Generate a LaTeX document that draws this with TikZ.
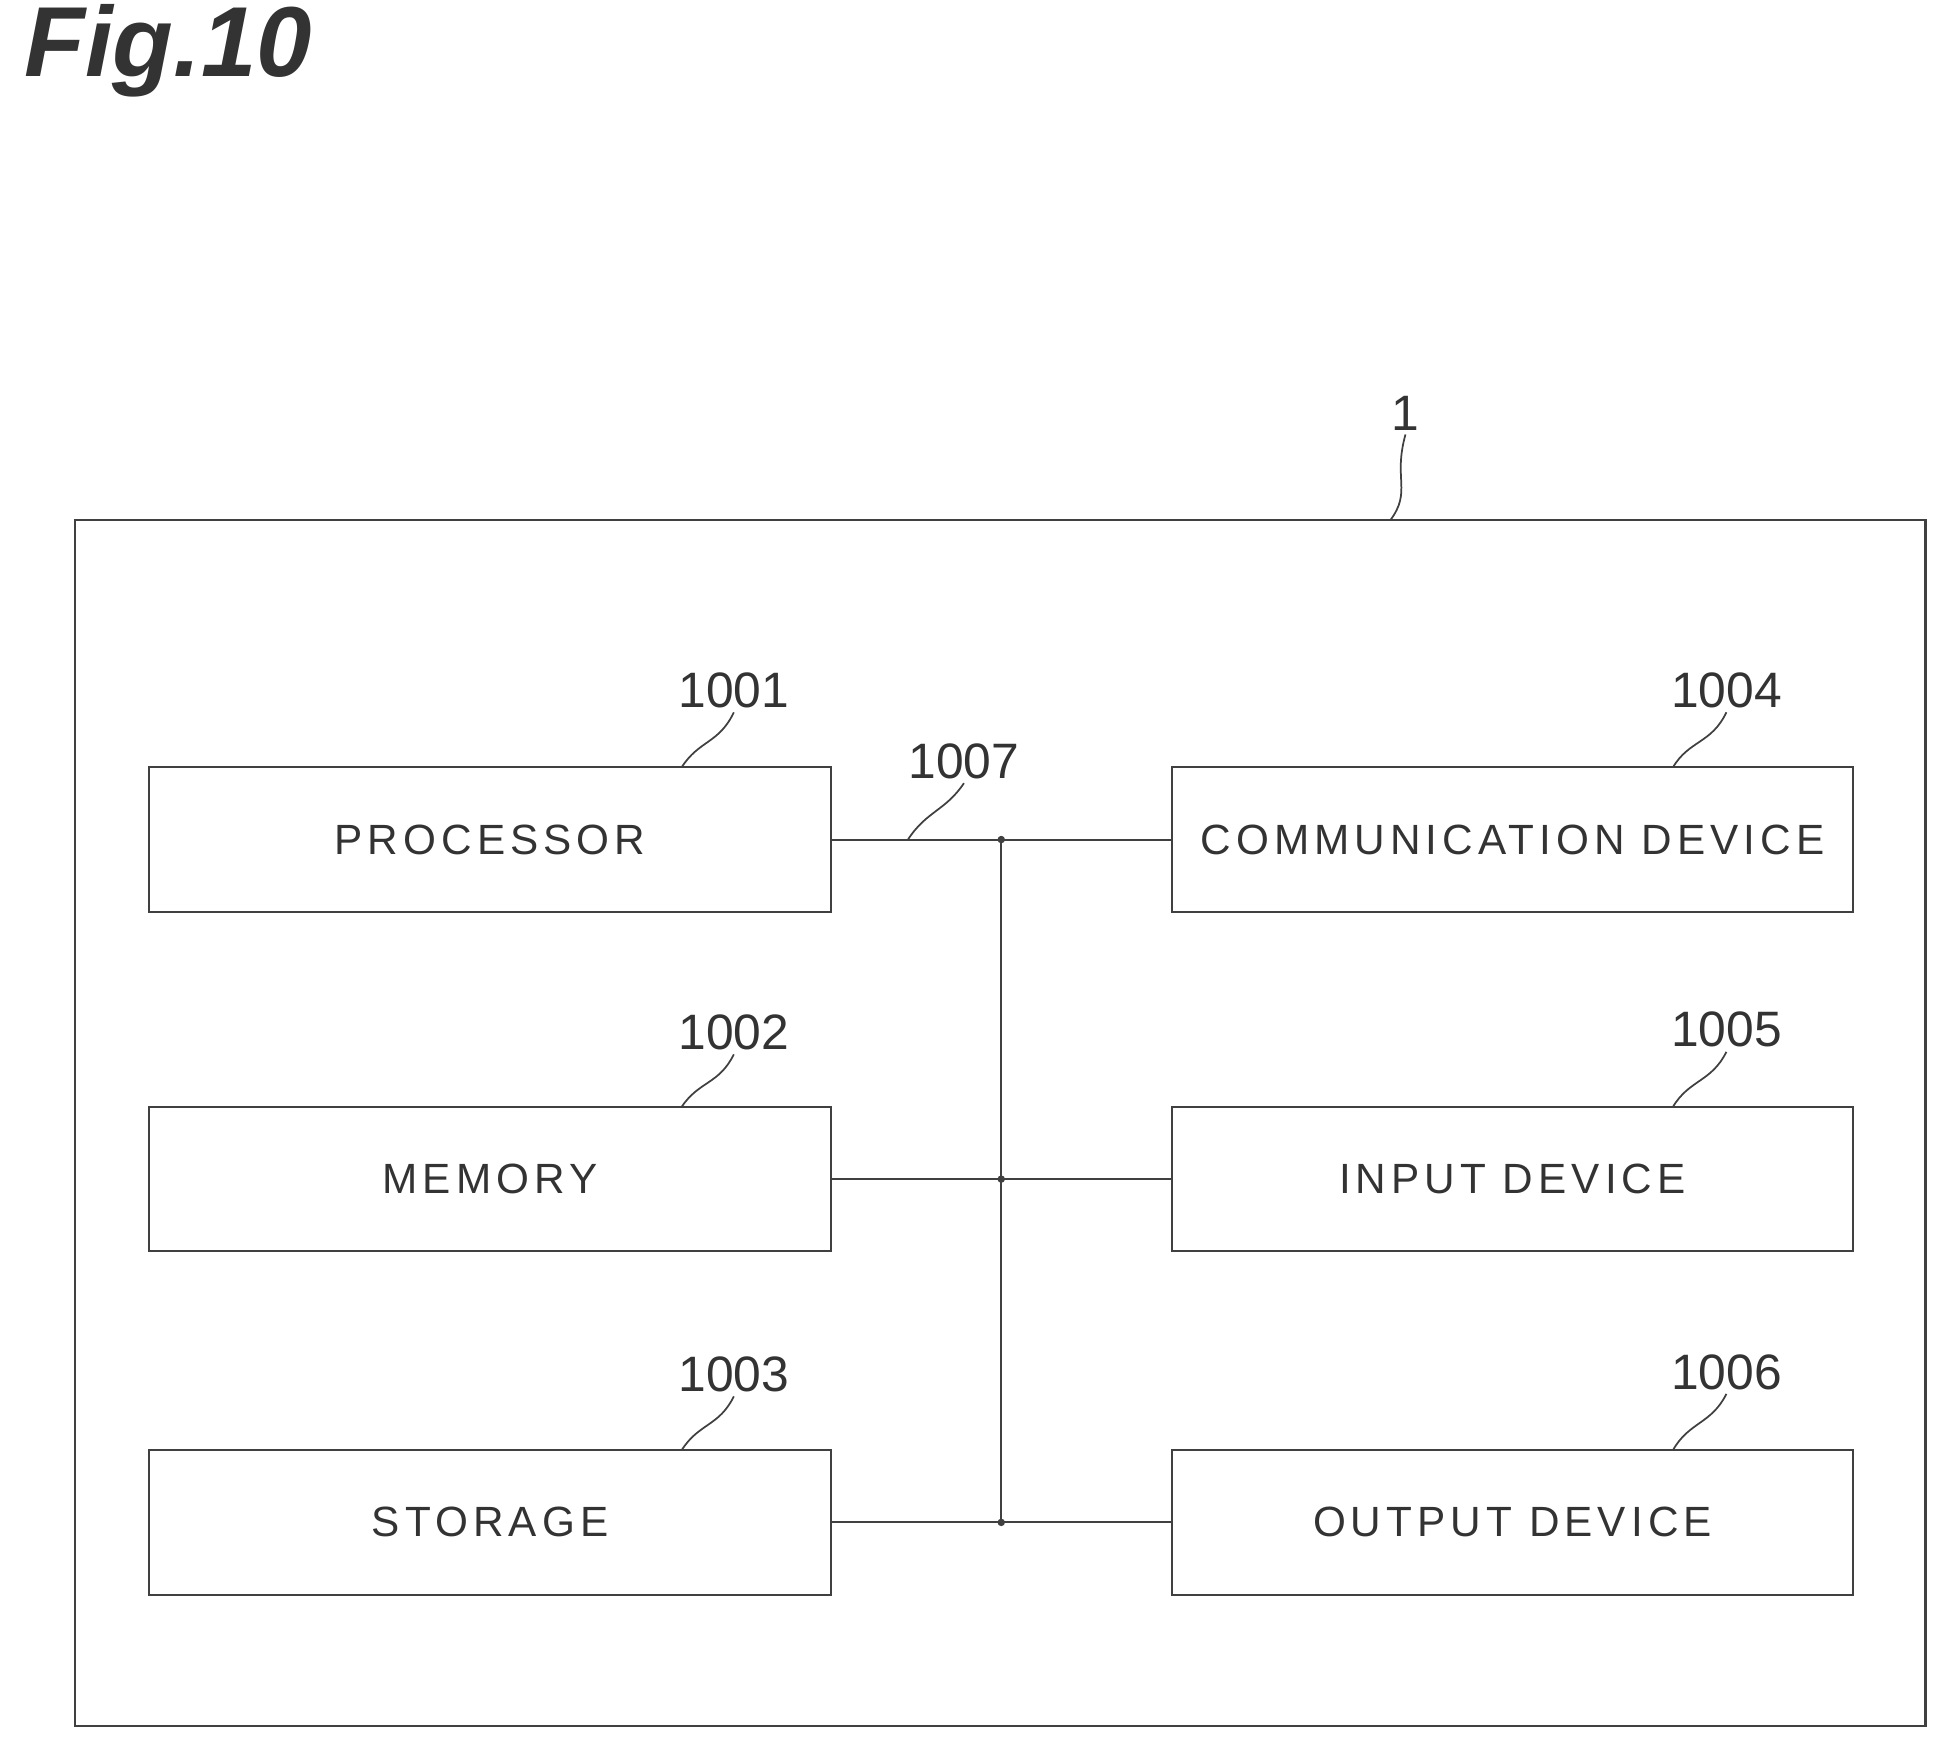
\documentclass[tikz,border=0pt]{standalone}
\usepackage{fontspec}
\setmainfont{Liberation Sans}
\newfontfamily\unitfont[LetterSpace=12]{Liberation Sans}
\begin{document}
\begin{tikzpicture}[x=1pt,y=-1pt,
  unit/.style={draw=black!75, line width=1.6pt, minimum width=548pt, minimum height=116pt,
    inner sep=0pt, font=\unitfont\fontsize{34}{36}\selectfont, text=black!80},
  refnum/.style={font=\fontsize{40}{42}\selectfont, text=black!80},
  lead/.style={draw=black!75, line width=1.4pt},
  bus/.style={draw=black!75, line width=1.6pt},
  junc/.style={circle, fill=black!75, inner sep=0pt, minimum size=6pt}]

  \useasboundingbox (0,0) rectangle (1567,1410);

  % title
  \node[anchor=north west, font=\fontsize{80}{82}\selectfont\bfseries\itshape, text=black!80]
    (title) at (16,0) {Fig.10};

  % outer box
  \node[draw=black!75, line width=1.8pt, minimum width=1488pt, minimum height=970pt,
    inner sep=0pt] (dev) at (804,903) {};
  \node[refnum] (n1) at (1130,332) {1};
  \draw[lead] (n1.south) .. controls (1120,385) and (1135,395) .. (1118,418);

  % left units
  \node[unit] (proc) at (394,675)  {PROCESSOR};
  \node[unit] (mem)  at (394,948)  {MEMORY};
  \node[unit] (stor) at (394,1224) {STORAGE};

  % right units
  \node[unit] (comm) at (1216,675)  {COMMUNICATION DEVICE};
  \node[unit] (inp)  at (1216,948)  {INPUT DEVICE};
  \node[unit] (outp) at (1216,1224) {OUTPUT DEVICE};

  % reference numbers
  \node[refnum] (r1001) at (590,555)  {1001};
  \node[refnum] (r1002) at (590,830)  {1002};
  \node[refnum] (r1003) at (590,1105) {1003};
  \node[refnum] (r1004) at (1388,555) {1004};
  \node[refnum] (r1005) at (1388,828) {1005};
  \node[refnum] (r1006) at (1388,1103) {1006};
  \node[refnum] (r1007) at (775,612)  {1007};

  \draw[lead] (r1001.south) .. controls (578,598) and (562,595) .. (548,617);
  \draw[lead] (r1002.south) .. controls (578,872) and (562,869) .. (548,890);
  \draw[lead] (r1003.south) .. controls (578,1147) and (562,1144) .. (548,1166);
  \draw[lead] (r1004.south) .. controls (1376,598) and (1358,595) .. (1345,617);
  \draw[lead] (r1005.south) .. controls (1376,870) and (1358,868) .. (1345,890);
  \draw[lead] (r1006.south) .. controls (1376,1145) and (1358,1143) .. (1345,1166);

  % bus
  \coordinate (b1) at (805,675);
  \coordinate (b2) at (805,948);
  \coordinate (b3) at (805,1224);
  \draw[bus] (proc.east) -- (b1) -- (comm.west);
  \draw[bus] (mem.east) -- (b2) -- (inp.west);
  \draw[bus] (stor.east) -- (b3) -- (outp.west);
  \draw[bus] (b1) -- (b3);
  \foreach \j in {b1,b2,b3} \node[junc] at (\j) {};
  \draw[lead] (r1007.south) .. controls (760,652) and (745,652) .. (730,675);
\end{tikzpicture}
\end{document}
